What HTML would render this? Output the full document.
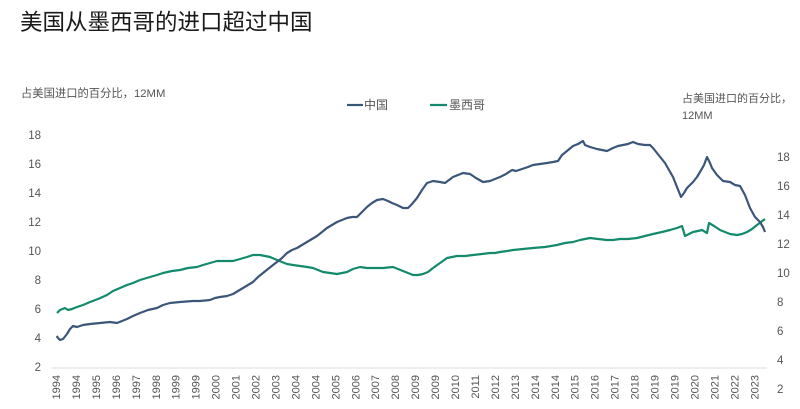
<!DOCTYPE html>
<html><head><meta charset="utf-8">
<style>
html,body{margin:0;padding:0;background:#fff;}
svg{display:block;font-family:"Liberation Sans","Noto Sans CJK SC",sans-serif;}
</style></head>
<body>
<svg width="800" height="409" viewBox="0 0 800 409" xmlns="http://www.w3.org/2000/svg">
<rect width="800" height="409" fill="#fff"/>
<text x="20" y="30" font-size="22.5" fill="#1a1a1a">美国从墨西哥的进口超过中国</text>
<text x="21" y="97" font-size="11.3" fill="#555">占美国进口的百分比，12MM</text>
<text x="682" y="102" font-size="11" fill="#555">占美国进口的百分比，</text>
<text x="682" y="119" font-size="11" fill="#555">12MM</text>
<!-- legend -->
<line x1="347" y1="105" x2="363" y2="105" stroke="#3c5679" stroke-width="2.2"/>
<text x="364" y="109" font-size="12" fill="#555">中国</text>
<line x1="430" y1="105" x2="447" y2="105" stroke="#138a6b" stroke-width="2.2"/>
<text x="449" y="109" font-size="12" fill="#555">墨西哥</text>
<!-- axis line -->
<line x1="52" y1="368" x2="767" y2="368" stroke="#ddd" stroke-width="1"/>
<!-- left axis -->
<g font-size="11.5" fill="#555" text-anchor="end">
<text x="41" y="139">18</text>
<text x="41" y="168">16</text>
<text x="41" y="197">14</text>
<text x="41" y="226">12</text>
<text x="41" y="255">10</text>
<text x="41" y="284">8</text>
<text x="41" y="313">6</text>
<text x="41" y="342">4</text>
<text x="41" y="371">2</text>
</g>
<!-- right axis -->
<g font-size="11.5" fill="#555">
<text x="777" y="161">18</text>
<text x="777" y="190">16</text>
<text x="777" y="219">14</text>
<text x="777" y="248">12</text>
<text x="777" y="277">10</text>
<text x="777" y="306">8</text>
<text x="777" y="335">6</text>
<text x="777" y="364">4</text>
<text x="777" y="393">2</text>
</g>
<!-- x labels -->
<g font-size="11" fill="#555" text-anchor="end">
<text x="60" y="375" transform="rotate(-90 60 375)">1994</text>
<text x="79.95" y="375" transform="rotate(-90 79.95 375)">1994</text>
<text x="99.9" y="375" transform="rotate(-90 99.9 375)">1995</text>
<text x="119.85" y="375" transform="rotate(-90 119.85 375)">1996</text>
<text x="139.8" y="375" transform="rotate(-90 139.8 375)">1997</text>
<text x="159.75" y="375" transform="rotate(-90 159.75 375)">1998</text>
<text x="179.7" y="375" transform="rotate(-90 179.7 375)">1999</text>
<text x="199.65" y="375" transform="rotate(-90 199.65 375)">1999</text>
<text x="219.6" y="375" transform="rotate(-90 219.6 375)">2000</text>
<text x="239.55" y="375" transform="rotate(-90 239.55 375)">2001</text>
<text x="259.5" y="375" transform="rotate(-90 259.5 375)">2002</text>
<text x="279.45" y="375" transform="rotate(-90 279.45 375)">2003</text>
<text x="299.4" y="375" transform="rotate(-90 299.4 375)">2004</text>
<text x="319.35" y="375" transform="rotate(-90 319.35 375)">2004</text>
<text x="339.3" y="375" transform="rotate(-90 339.3 375)">2005</text>
<text x="359.25" y="375" transform="rotate(-90 359.25 375)">2006</text>
<text x="379.2" y="375" transform="rotate(-90 379.2 375)">2007</text>
<text x="399.15" y="375" transform="rotate(-90 399.15 375)">2008</text>
<text x="419.1" y="375" transform="rotate(-90 419.1 375)">2009</text>
<text x="439.05" y="375" transform="rotate(-90 439.05 375)">2009</text>
<text x="459" y="375" transform="rotate(-90 459 375)">2010</text>
<text x="478.95" y="375" transform="rotate(-90 478.95 375)">2011</text>
<text x="498.9" y="375" transform="rotate(-90 498.9 375)">2012</text>
<text x="518.85" y="375" transform="rotate(-90 518.85 375)">2013</text>
<text x="538.8" y="375" transform="rotate(-90 538.8 375)">2014</text>
<text x="558.75" y="375" transform="rotate(-90 558.75 375)">2014</text>
<text x="578.7" y="375" transform="rotate(-90 578.7 375)">2015</text>
<text x="598.65" y="375" transform="rotate(-90 598.65 375)">2016</text>
<text x="618.6" y="375" transform="rotate(-90 618.6 375)">2017</text>
<text x="638.55" y="375" transform="rotate(-90 638.55 375)">2018</text>
<text x="658.5" y="375" transform="rotate(-90 658.5 375)">2019</text>
<text x="678.45" y="375" transform="rotate(-90 678.45 375)">2019</text>
<text x="698.4" y="375" transform="rotate(-90 698.4 375)">2020</text>
<text x="718.35" y="375" transform="rotate(-90 718.35 375)">2021</text>
<text x="738.3" y="375" transform="rotate(-90 738.3 375)">2022</text>
<text x="758.25" y="375" transform="rotate(-90 758.25 375)">2023</text>
</g>
<!-- Mexico -->
<polyline fill="none" stroke="#138a6b" stroke-width="2.2" stroke-linejoin="round" points="57,313 60,310 65,308 68,310 72,309 77,307 83,305 90,302 98,299 107,295 113,291 120,288 127,285 133,283 140,280 150,277 157,275 163,273 172,271 180,270 188,268 197,267 203,265 210,263 217,261 225,261 233,261 240,259 247,257 253,255 260,255 265,256 270,257 277,260 282,262 287,264 293,265 300,266 307,267 313,268 318,270 323,272 330,273 337,274 342,273 347,272 353,269 360,267 367,268 373,268 383,268 393,267 398,269 403,271 408,273 413,275 418,275 423,274 428,272 433,268 440,263 447,258 452,257 457,256 465,256 473,255 482,254 490,253 495,253 500,252 507,251 513,250 523,249 533,248 545,247 557,245 565,243 573,242 580,240 590,238 598,239 607,240 613,240 620,239 628,239 637,238 645,236 653,234 662,232 670,230 677,228 682,226 685,236 689,234 693,232 698,231 702,230 707,233 709,223 714,226 720,230 725,232 730,234 737,235 742,234 747,232 752,229 757,225 761,222 765,219"/>
<!-- China -->
<polyline fill="none" stroke="#3c5679" stroke-width="2.2" stroke-linejoin="round" points="56.7,336 58,338 60,340 63,339 67,334 70,329 73,326 77,327 83,325 90,324 100,323 110,322 117,323 122,321 127,319 133,316 140,313 148,310 157,308 163,305 170,303 180,302 193,301 200,301 210,300 215,298 220,297 227,296 233,294 238,291 243,288 248,285 253,282 258,277 263,273 268,269 273,265 277,262 282,258 287,253 292,250 297,248 302,245 307,242 312,239 317,236 322,232 327,228 332,225 337,222 342,220 347,218 352,217 357,217 362,212 367,207 372,203 377,200 383,199 388,201 392,203 397,205 403,208 408,208 412,204 417,198 422,190 427,183 433,181 440,182 445,183 449,180 453,177 458,175 463,173 470,174 476,178 483,182 490,181 495,179 500,177 506,174 512,170 516,171 522,169 528,167 533,165 540,164 547,163 553,162 558,161 562,155 567,151 573,146 578,144 583,141 585,145 590,147 597,149 602,150 607,151 613,148 618,146 623,145 628,144 633,142 638,144 645,145 650,145 653,148 657,153 661,158 665,163 669,170 673,177 677,187 681,197 684,193 687,188 693,182 697,177 700,172 704,165 707,157 710,163 712,168 717,175 723,181 730,182 735,185 740,186 745,195 750,208 755,217 760,222 763,227 765,232"/>
</svg>
</body></html>
